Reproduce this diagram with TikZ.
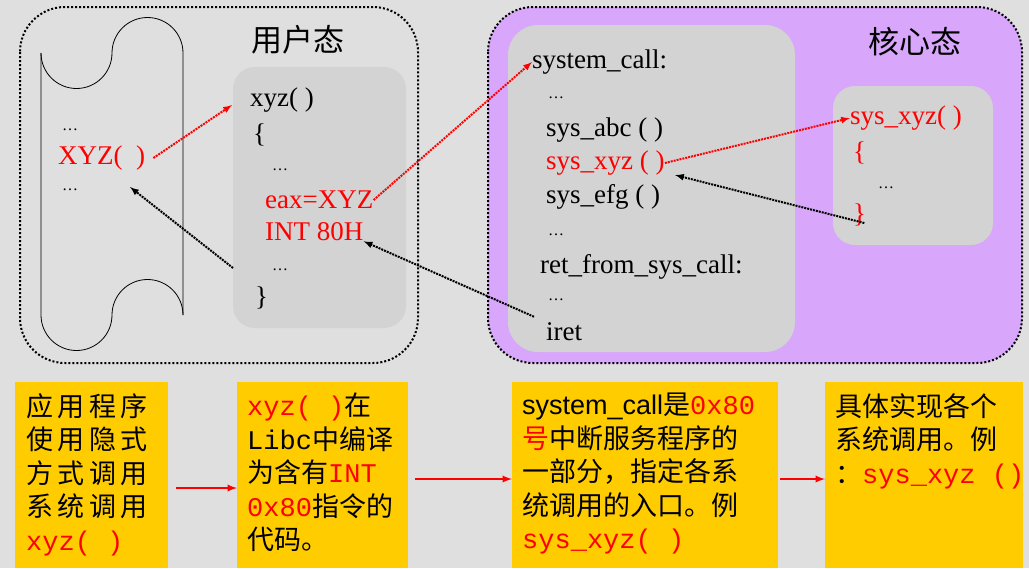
\documentclass[tikz,border=0pt]{standalone}
\usepackage{fontspec}
\setmainfont{Liberation Serif}
\setmonofont{Liberation Mono}
\setsansfont{Liberation Sans}
\newfontfamily\cjk{Noto Sans CJK SC}
\definecolor{bg}{HTML}{DFDFDF}
\definecolor{inbox}{HTML}{D3D3D3}
\definecolor{kern}{HTML}{D8A6FB}
\definecolor{note}{HTML}{FFCC00}
\tikzset{
  code/.style={anchor=west, inner sep=0pt, font=\fontsize{27}{30}\selectfont},
  rcode/.style={code, text=red},
  link/.style={densely dotted, line width=2pt, -latex},
  notebox/.style={fill=note, anchor=north west, inner sep=0pt},
  notetext/.style={anchor=north west, align=left, inner sep=0pt, font=\cjk\fontsize{27}{33.5}\selectfont},
  step arrow/.style={red, line width=2.2pt, -latex}
}
\newcommand\dd{{\fontsize{16}{18}\selectfont\dots}}
\begin{document}
\begin{tikzpicture}[x=1pt,y=-1pt]
\fill[bg] (0,0) rectangle (1029,568);
% user mode
\draw[dotted, line width=2pt, rounded corners=45pt] (20,7) rectangle (418,363);
\node[anchor=center, font=\cjk\fontsize{31}{34}\selectfont] (user) at (298,40) {用户态};
\draw[line width=0.8pt] (41,53) arc[start angle=180, end angle=0, radius=35.5]
  arc[start angle=180, end angle=360, radius=35.5] -- (183,315);
\draw[line width=0.8pt] (41,53) -- (41,315) arc[start angle=180, end angle=0, radius=35.5]
  arc[start angle=180, end angle=360, radius=35.5];
\node[code] (d1) at (62,130) {\dd};
\node[rcode] (XYZ) at (58,158) {XYZ(\ \ )};
\node[code] (d2) at (62,190) {\dd};
\fill[inbox, rounded corners=22pt] (233,67) rectangle (406,328);
\node[code] (xyz) at (250,100) {xyz( )};
\node[code] at (253,135) {\{};
\node[code] at (272,170) {\dd};
\node[rcode] (eax) at (265,200) {eax=XYZ};
\node[rcode] (int) at (265,232) {INT 80H};
\node[code] (d3) at (272,270) {\dd};
\node[code] at (255,298) {\}};
% kernel mode
\draw[fill=kern, dotted, line width=2pt, rounded corners=45pt] (488,7) rectangle (1022,363);
\node[anchor=center, font=\cjk\fontsize{31}{34}\selectfont] (kernel) at (915,42) {核心态};
\fill[inbox, rounded corners=30pt] (508,25) rectangle (795,352);
\node[code] (sc) at (532,62) {system\_call:};
\node[code] at (548,98) {\dd};
\node[code] at (546,130) {sys\_abc ( )};
\node[rcode] (sxyz) at (546,163) {sys\_xyz ( )};
\node[code] (sefg) at (546,197) {sys\_efg ( )};
\node[code] at (548,235) {\dd};
\node[code] at (540,267) {ret\_from\_sys\_call:};
\node[code] at (548,300) {\dd};
\node[code] (iret) at (546,332) {iret};
\fill[inbox, rounded corners=22pt] (833,86) rectangle (993,245);
\node[rcode] (impl) at (850,118) {sys\_xyz( )};
\node[rcode] at (853,153) {\{};
\node[code] at (878,188) {\dd};
\node[rcode] (close) at (853,215) {\}};
% calls
\coordinate (entry) at (232,105);
\draw[link, red] (XYZ.east) ++(8,0) -- (entry);
\draw[link, red] (eax.east) -- (sc.west);
\draw[link, red] (sxyz.east) -- (impl.west);
\draw[link] (close.east) ++(-2,8) -- (675,175);
\draw[link] (iret.north west) ++(-12,-6) -- (int.south east);
\coordinate (back) at (233,268);
\draw[link] (back) -- (130,187);
% notes
\node[notebox, minimum width=153pt, minimum height=186pt] (n1) at (15,382) {};
\node[notebox, minimum width=171pt, minimum height=186pt] (n2) at (237,382) {};
\node[notebox, minimum width=266pt, minimum height=186pt] (n3) at (512,382) {};
\node[notebox, minimum width=198pt, minimum height=186pt] (n4) at (825,382) {};
\node[notetext] at (26,393) {应\,用\,程\,序\\使\,用\,隐\,式\\方\,式\,调\,用\\系\,统\,调\,用\\\textcolor{red}{\ttfamily xyz(\ )}};
\node[notetext] at (247,393) {\textcolor{red}{\ttfamily xyz(\ )}在\\{\ttfamily Libc}中编译\\为含有\textcolor{red}{\ttfamily INT}\\\textcolor{red}{\ttfamily 0x80}指令的\\代码。};
\node[notetext] at (522,393) {{\sffamily system\_call}是\textcolor{red}{\ttfamily 0x80}\\\textcolor{red}{号}中断服务程序的\\一部分，指定各系\\统调用的入口。例\\\textcolor{red}{\ttfamily sys\_xyz(\ )}};
\node[notetext] at (835,393) {具体实现各个\\系统调用。例\\：\textcolor{red}{\ttfamily sys\_xyz ()}};
\draw[step arrow] (n1.east |- 0,488) ++(8,0) -- (n2.west |- 0,488);
\draw[step arrow] (n2.east |- 0,479) ++(7,0) -- (n3.west |- 0,479);
\draw[step arrow] (n3.east |- 0,479) ++(2,0) -- (n4.west |- 0,479);
\end{tikzpicture}
\end{document}
